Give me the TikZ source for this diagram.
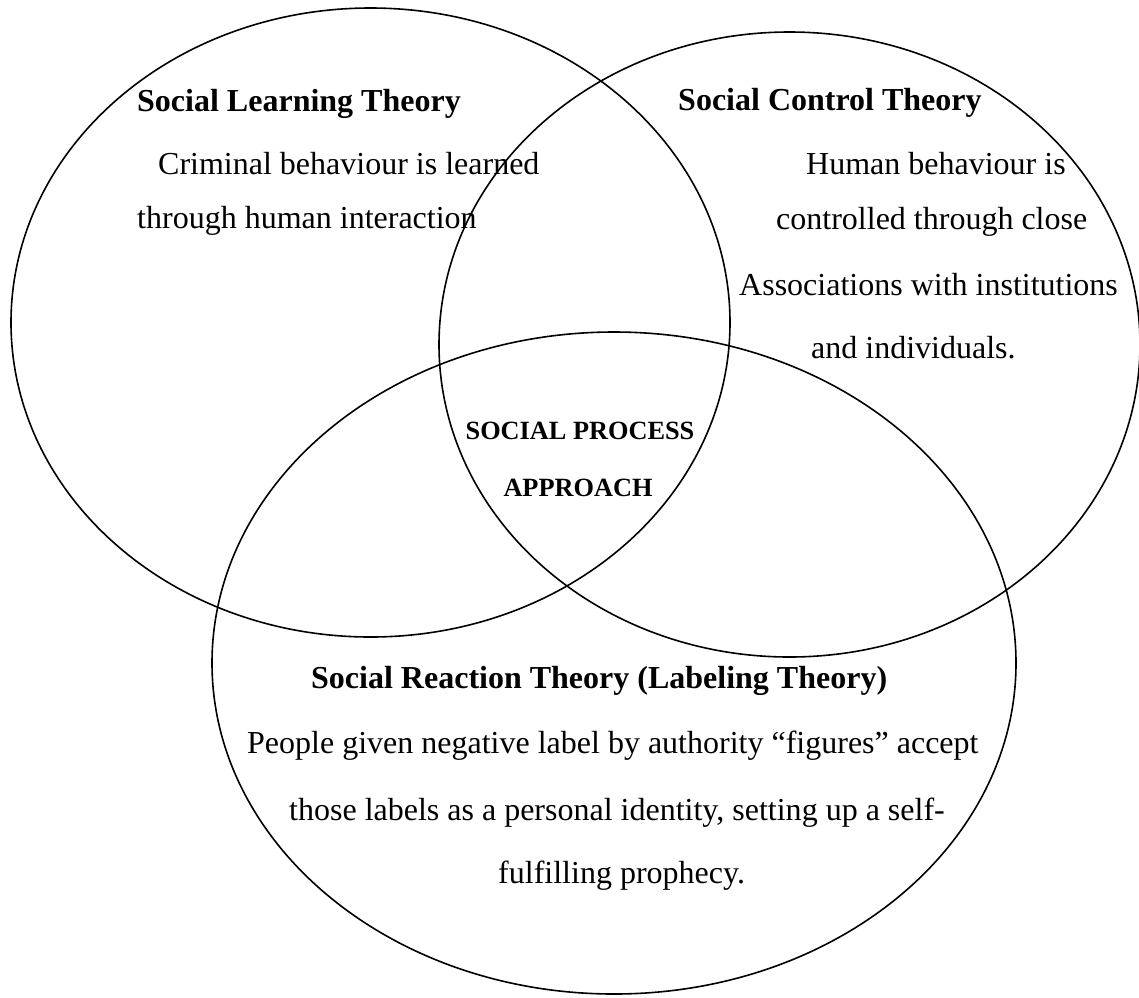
\documentclass[tikz,border=0pt]{standalone}
\usepackage{fontspec}
\setmainfont{Liberation Serif}
\begin{document}
\begin{tikzpicture}[x=1pt,y=-1pt,
  ring/.style={draw=black,line width=1.6pt},
  txt/.style={inner sep=0pt,anchor=base west,font=\fontsize{32}{38}\selectfont},
  ttl/.style={txt,font=\fontsize{32}{38}\selectfont\bfseries},
  ctr/.style={inner sep=0pt,anchor=base,font=\fontsize{26.3}{30}\selectfont\bfseries}]
\useasboundingbox (0,0) rectangle (1139,997);
\draw[ring] (370.5,322.5) ellipse [x radius=359.5pt, y radius=314.5pt];
\draw[ring] (789.5,344.5) ellipse [x radius=350.5pt, y radius=312.5pt];
\draw[ring] (614,663) ellipse [x radius=402pt, y radius=331pt];
% left
\node[ttl] (slt) at (137,111) {Social Learning Theory};
\node[txt] (sl1) at (158,174) {Criminal behaviour is learned};
\node[txt] (sl2) at (137,228) {through human interaction};
% right
\node[ttl] (sct) at (678,110) {Social Control Theory};
\node[txt] (sc1) at (806,174) {Human behaviour is};
\node[txt] (sc2) at (776,229) {controlled through close};
\node[txt] (sc3) at (739,295) {Associations with institutions};
\node[txt] (sc4) at (811,358) {and individuals.};
% centre
\node[ctr] (sp1) at (580,439) {SOCIAL PROCESS};
\node[ctr] (sp2) at (578,496) {APPROACH};
% bottom
\node[ttl] (srt) at (311,688) {Social Reaction Theory (Labeling Theory)};
\node[txt] (sr1) at (247,753) {People given negative label by authority “figures” accept};
\node[txt] (sr2) at (289,820) {those labels as a personal identity, setting up a self-};
\node[txt] (sr3) at (498,883) {fulfilling prophecy.};
\end{tikzpicture}
\end{document}
